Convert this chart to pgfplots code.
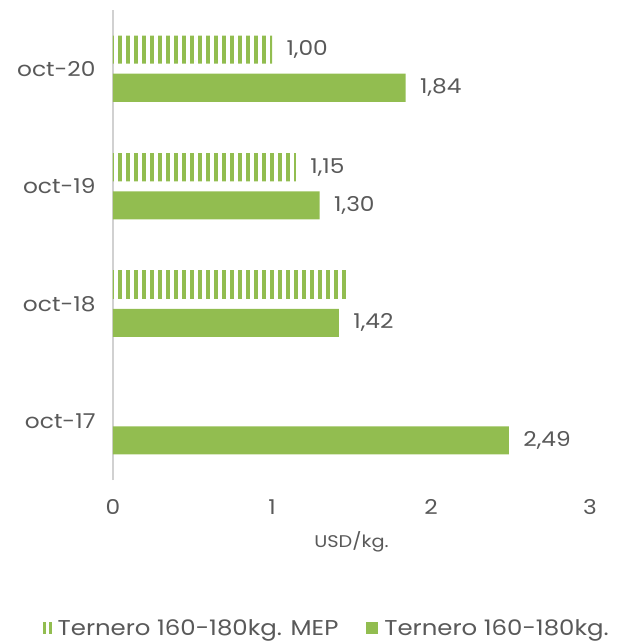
\documentclass[border=0pt]{standalone}
\usepackage{pgfplots}
\pgfplotsset{compat=1.18}
\usepackage{fontspec}
\setmainfont{Poppins}[FakeStretch=1.14]
\usetikzlibrary{patterns.meta}
\definecolor{vgreen}{HTML}{92BD50}
\definecolor{txt}{HTML}{595959}
\begin{document}
\begin{tikzpicture}
\begin{axis}[
  name=ax,
  scale only axis, width=477bp, height=470bp,
  xbar, bar width=28bp,
  xmin=0, xmax=3, ymin=-0.5, ymax=3.5,
  xtick={0,1,2,3},
  ytick={0,1,2,3},
  yticklabels={oct-17,oct-18,oct-19,oct-20},
  axis lines*=left,
  axis line style={-},
  x axis line style={draw=none},
  y axis line style={draw=black!18, line width=1.2bp},
  major tick length=0pt,
  tick label style={font=\fontsize{20.5}{22}\selectfont, text=txt},
  /pgf/number format/assume math mode=true,
  y tick label style={xshift=-14bp},
  x tick label style={yshift=-16bp},
  xlabel={USD/kg.},
  xlabel style={font=\fontsize{17}{18}\selectfont, text=txt, yshift=-10bp},
  nodes near coords,
  nodes near coords align=horizontal,
  point meta=explicit symbolic,
  every node near coord/.append style={font=\fontsize{20.5}{22}\selectfont, text=txt, anchor=west, xshift=11bp},
  legend style={at={(0.448,-0.315)}, anchor=center, draw=none, legend columns=2,
    font=\fontsize{21.5}{23}\selectfont, text=txt, /tikz/every even column/.append style={column sep=26bp}},
]
\addplot[draw=none, pattern={Lines[angle=90,distance=8bp,line width=4.6bp]}, pattern color=vgreen, bar shift=19bp,
  legend image code/.code={\fill[vgreen] (0bp,-6bp) rectangle (3bp,6bp); \fill[vgreen] (6bp,-6bp) rectangle (9bp,6bp); \path (13bp,0bp);}]
  coordinates {(1.00,3) [1,00] (1.15,2) [1,15]};
\addlegendentry{Ternero 160-180kg. MEP}
\addplot[draw=none, fill=vgreen, bar shift=-19bp,
  legend image code/.code={\fill[vgreen] (0bp,-6bp) rectangle (12bp,6bp); \path (16bp,0bp);}]
  coordinates {(1.84,3) [1,84] (1.30,2) [1,30] (1.42,1) [1,42] (2.49,0) [2,49]};
\addlegendentry{Ternero 160-180kg.}
\addplot[draw=none, pattern={Lines[angle=90,distance=8bp,line width=4.6bp]}, pattern color=vgreen, bar shift=19bp, nodes near coords=\empty, forget plot]
  coordinates {(1.47,1) [x]};
\end{axis}
\path[use as bounding box] ([xshift=-113bp,yshift=-164bp]ax.south west) rectangle ([xshift=45bp,yshift=10bp]ax.north east);
\end{tikzpicture}
\end{document}
